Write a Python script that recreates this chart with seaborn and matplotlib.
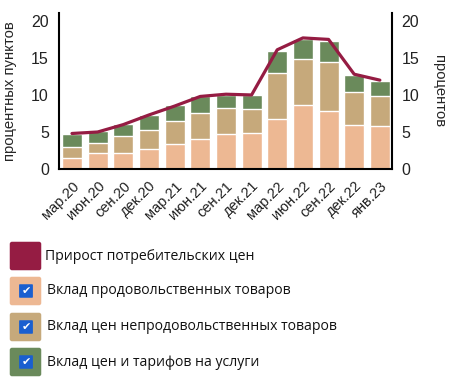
import numpy as np
import pandas as pd
import seaborn as sns
import matplotlib.pyplot as plt
from matplotlib.patches import FancyBboxPatch

sns.set_theme()
sns.set_style('white')
plt.rcParams['font.family'] = ['Liberation Sans', 'DejaVu Sans']

months = ['мар.20', 'июн.20', 'сен.20', 'дек.20', 'мар.21', 'июн.21', 'сен.21',
          'дек.21', 'мар.22', 'июн.22', 'сен.22', 'дек.22', 'янв.23']
food = [1.5, 2.1, 2.2, 2.7, 3.4, 4.0, 4.7, 4.9, 6.8, 8.6, 7.9, 6.0, 5.8]
nonfood = [1.5, 1.4, 2.2, 2.6, 3.1, 3.6, 3.5, 3.2, 6.1, 6.3, 6.6, 4.4, 4.1]
services = [1.7, 1.6, 1.7, 2.0, 2.1, 2.2, 1.8, 1.9, 3.1, 2.6, 2.8, 2.3, 2.0]
cpi = [4.8, 5.0, 6.0, 7.3, 8.5, 9.8, 10.1, 10.0, 16.1, 17.7, 17.5, 12.8, 12.0]

labels = ['Прирост потребительских цен', 'Вклад продовольственных товаров',
          'Вклад цен непродовольственных товаров', 'Вклад цен и тарифов на услуги']
colors = ['#951c43', '#edb893', '#c6a97b', '#6a8a5b']

df = pd.DataFrame({'month': months, 'food': food, 'nonfood': nonfood,
                   'services': services, 'cpi': cpi})
df['l2'] = df['food'] + df['nonfood']
df['l3'] = df['l2'] + df['services']

fig = plt.figure(figsize=(4.51, 3.79), dpi=100)
ax = fig.add_axes([0.130, 0.554, 0.739, 0.412])

# stacked bars: draw the totals first, smaller stacks on top
sns.barplot(df, x='month', y='l3', color=colors[3], width=0.78, saturation=1, ax=ax)
sns.barplot(df, x='month', y='l2', color=colors[2], width=0.78, saturation=1, ax=ax)
sns.barplot(df, x='month', y='food', color=colors[1], width=0.78, saturation=1, ax=ax)

ax2 = ax.twinx()
sns.lineplot(x=np.arange(len(months)), y=df['cpi'], color=colors[0], lw=2.3, ax=ax2)

for a in (ax, ax2):
    a.set_ylim(0, 21.08)
    a.set_yticks([0, 5, 10, 15, 20])
    a.tick_params(axis='y', labelsize=11.5, length=0, pad=7, colors='#222222')
    for s in a.spines.values():
        s.set_visible(False)
ax.set_xlim(-0.52, 12.47)
ax.spines['left'].set_visible(True)
ax.spines['bottom'].set_visible(True)
ax2.spines['right'].set_visible(True)
for s in (ax.spines['left'], ax.spines['bottom'], ax2.spines['right']):
    s.set_color('black')
    s.set_linewidth(1.5)

ax.set_xlabel('')
ax.set_ylabel('процентных пунктов', fontsize=10.7, labelpad=10)
ax2.set_ylabel('процентов', fontsize=10.7, rotation=270, labelpad=19)
ax.tick_params(axis='x', labelsize=10.5, length=0, pad=7, colors='#222222')
plt.setp(ax.get_xticklabels(), rotation=45, ha='right', rotation_mode='anchor')

# legend drawn as rounded swatches with checkboxes
W, H = 451, 379
ys = [256, 291, 327, 362]
for i, (lab, col, y) in enumerate(zip(labels, colors, ys)):
    sw = FancyBboxPatch(((10 + 2) / W, (H - y - 14 + 2) / H), 27 / W, 24 / H,
                        boxstyle='round,pad=0.005', transform=fig.transFigure,
                        facecolor=col, edgecolor='none', mutation_aspect=W / H)
    fig.patches.append(sw)
    if i > 0:
        cb = FancyBboxPatch((20 / W, (H - y - 6) / H), 12 / W, 12 / H,
                            boxstyle='round,pad=0.002', transform=fig.transFigure,
                            facecolor='#1a5fd0', edgecolor='none')
        fig.patches.append(cb)
        fig.text(26 / W, (H - y) / H, '✔', color='white', fontsize=8,
                 ha='center', va='center', family='DejaVu Sans')
    fig.text((45 if i == 0 else 47) / W, (H - y) / H, lab, fontsize=10.1,
             va='center', ha='left', color='#111111', family=['Open Sans', 'DejaVu Sans'])

fig.savefig('out.png', dpi=100)
